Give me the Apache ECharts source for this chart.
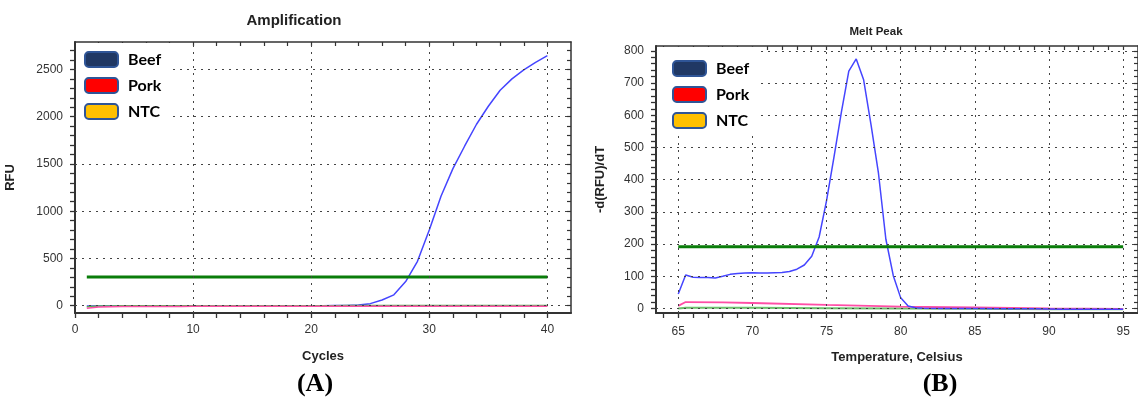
<!DOCTYPE html>
<html>
<head>
<meta charset="utf-8">
<script src="https://cdn.jsdelivr.net/npm/echarts@6/dist/echarts.min.js"></script>
<style>
html,body{margin:0;padding:0;background:#fff;}
#chart{width:1138px;height:397px;}
</style>
</head>
<body>
<div id="chart"></div>
<script>
// ---------- Data: (A) Amplification ----------
const cycles = [1,2,3,4,5,6,7,8,9,10,11,12,13,14,15,16,17,18,19,20,21,22,23,24,25,26,27,28,29,30,31,32,33,34,35,36,37,38,39,40];
const beefAmp = [-4,-3,-2,-2,-1,-1,-1,0,0,0,0,0,0,0,0,0,0,0,0,1,1,2,3,8,22,60,115,255,470,800,1160,1450,1690,1920,2110,2280,2400,2495,2575,2645];
const porkAmp = [-28,-14,-10,-9,-8,-8,-7,-7,-7,-6,-6,-6,-6,-6,-6,-6,-6,-6,-6,-6,-6,-6,-6,-6,-6,-6,-6,-6,-6,-6,-6,-6,-6,-6,-6,-6,-6,-6,-6,-6];
const ntcAmp = [-10,-4,-2,-1,0,0,0,0,0,1,1,1,1,1,1,1,1,1,1,1,1,1,2,2,2,2,2,2,2,2,2,2,2,2,2,2,2,2,2,2];
const ampThreshold = 305;
const ampXTicks = [0,2,4,6,8,10,12,14,16,18,20,22,24,26,28,30,32,34,36,38,40];
const ampXLabels = [0,10,20,30,40];
const ampYTicks = [0,100,200,300,400,500,600,700,800,900,1000,1100,1200,1300,1400,1500,1600,1700,1800,1900,2000,2100,2200,2300,2400,2500,2600,2700];
const ampYLabels = [0,500,1000,1500,2000,2500];

// ---------- Data: (B) Melt Peak ----------
const meltTemps = [65,65.5,66,66.5,67,67.5,68,68.5,69,69.5,70,70.5,71,71.5,72,72.5,73,73.5,74,74.5,75,75.5,76,76.5,77,77.5,78,78.5,79,79.5,80,80.5,81,81.5,83,85,87,89,91,93,95];
const beefMelt = [45,104,97,96,96,95,100,106,109,110,111,110,110,111,112,115,122,135,162,222,335,470,610,737,775,710,570,420,215,102,33,8,2,1,0,0,-1,-1,-2,-2,-2];
const porkTemps = [65,65.5,68,70,75,80,85,90,95];
const porkMelt = [8,20,19,17,11,6,3,0,-1];
const ntcTemps = [65,65.5,70,75,80,85,90,95];
const ntcMelt = [0,2,2,1,0,-1,-2,-2];
const meltThreshold = 192;
const meltXTicks = [64,65,66,67,68,69,70,71,72,73,74,75,76,77,78,79,80,81,82,83,84,85,86,87,88,89,90,91,92,93,94,95];
const meltXLabels = [65,70,75,80,85,90,95];
const meltYTicks = [0,20,40,60,80,100,120,140,160,180,200,220,240,260,280,300,320,340,360,380,400,420,440,460,480,500,520,540,560,580,600,620,640,660,680,700,720,740,760,780,800];
const meltYLabels = [0,100,200,300,400,500,600,700,800];

const legendNames = ['Beef','Pork','NTC'];
const legendFills = ['#203864','#ff0000','#ffc000'];

// ---------- helpers ----------
const zip = (xs, ys) => xs.map((x, i) => [x, ys[i]]);
const AX = '#333';
const labelFont = {fontFamily:'Liberation Sans', fontSize:12, color:'#333'};
const nameFont = {fontFamily:'Liberation Sans', fontSize:13, fontWeight:'bold', color:'#222'};
const plain = v => String(v);

function mainX(gridIndex, min, max, ticks, labels, name, margin, gap) {
  return {
    type:'value', gridIndex, min, max, position:'bottom',
    name, nameLocation:'middle', nameGap:gap, nameTextStyle:nameFont,
    axisLine:{show:true, onZero:false, lineStyle:{color:AX, width:2}},
    axisTick:{show:true, inside:false, length:5, customValues:ticks, lineStyle:{color:AX, width:1.3}},
    axisLabel:{show:true, customValues:labels, margin, formatter:plain, ...labelFont},
    splitLine:{show:false}
  };
}
function frameX(gridIndex, min, max, ticks) {
  return {
    type:'value', gridIndex, min, max, position:'top',
    axisLine:{show:true, onZero:false, lineStyle:{color:AX, width:1.5}},
    axisTick:{show:true, inside:true, length:4, customValues:ticks, lineStyle:{color:AX, width:1.2}},
    axisLabel:{show:false}, splitLine:{show:false}
  };
}
function mainY(gridIndex, min, max, ticks, labels, name, gap) {
  return {
    type:'value', gridIndex, min, max, position:'left',
    name, nameLocation:'middle', nameGap:gap, nameRotate:90, nameTextStyle:nameFont,
    axisLine:{show:true, onZero:false, lineStyle:{color:AX, width:2}},
    axisTick:{show:true, inside:false, length:5, customValues:ticks, lineStyle:{color:AX, width:1.3}},
    axisLabel:{show:true, customValues:labels, margin:12, formatter:plain, ...labelFont},
    splitLine:{show:false}
  };
}
function frameY(gridIndex, min, max, ticks) {
  return {
    type:'value', gridIndex, min, max, position:'right',
    axisLine:{show:true, onZero:false, lineStyle:{color:AX, width:1.5}},
    axisTick:{show:true, inside:true, length:4, customValues:ticks, lineStyle:{color:AX, width:1.2}},
    axisLabel:{show:false}, splitLine:{show:false}
  };
}
function gridSeries(xi, yi, xs, ys) {
  return {
    type:'line', name:'grid'+xi, xAxisIndex:xi, yAxisIndex:yi, data:[], silent:true, z:1,
    markLine:{
      silent:true, symbol:['none','none'], label:{show:false}, animation:false,
      lineStyle:{type:[2,5], color:'#444', width:1},
      emphasis:{disabled:true},
      data: xs.map(v => ({xAxis:v})).concat(ys.map(v => ({yAxis:v})))
    }
  };
}
function lineSeries(name, xi, yi, data, color, width) {
  return {
    type:'line', name, xAxisIndex:xi, yAxisIndex:yi, data, showSymbol:false, symbol:'none',
    lineStyle:{color, width}, itemStyle:{color}, z:3, silent:true, animation:false
  };
}
function legendBox(left, top, padding) {
  return {
    left, top, orient:'vertical', icon:'roundRect', itemWidth:33, itemHeight:15, itemGap:9,
    backgroundColor:'#fff', padding, z:10, selectedMode:false,
    data: legendNames,
    textStyle:{fontFamily:'Lato', fontWeight:'bold', fontSize:16, color:'#000', padding:[0,0,0,5]}
  };
}

const dummySeries = legendNames.map((n, i) => ({
  type:'scatter', name:n, xAxisIndex:0, yAxisIndex:0, data:[],
  itemStyle:{color:legendFills[i], opacity:1, borderColor:'#2f5597', borderWidth:2.2}
}));

const option = {
  animation:false,
  backgroundColor:'#fff',
  grid:[
    {left:75, top:42, width:496, height:271},
    {left:656, top:46, width:482, height:267}
  ],
  xAxis:[
    mainX(0, 0, 42, ampXTicks, ampXLabels, 'Cycles', 11, 37),
    frameX(0, 0, 42, ampXTicks),
    mainX(1, 63.5, 96, meltXTicks, meltXLabels, 'Temperature, Celsius', 13, 38),
    frameX(1, 63.5, 96, meltXTicks)
  ],
  yAxis:[
    mainY(0, -77, 2790, ampYTicks, ampYLabels, 'RFU', 58),
    frameY(0, -77, 2790, ampYTicks),
    mainY(1, -14, 815, meltYTicks, meltYLabels, '-d(RFU)/dT', 49),
    frameY(1, -14, 815, meltYTicks)
  ],
  legend:[
    legendBox(76, 43, [8,10,6,8]),
    legendBox(657, 47, [13,8,6,15])
  ],
  graphic:[
    {type:'text', x:294, y:21, style:{text:'Amplification', align:'center', verticalAlign:'middle', font:'bold 15px "Liberation Sans"', fill:'#222'}},
    {type:'text', x:876, y:32, style:{text:'Melt Peak', align:'center', verticalAlign:'middle', font:'bold 11.5px "Liberation Sans"', fill:'#222'}},
    {type:'text', x:315, y:384, style:{text:'(A)', align:'center', verticalAlign:'middle', font:'bold 26px "Liberation Serif"', fill:'#000'}},
    {type:'text', x:940, y:384, style:{text:'(B)', align:'center', verticalAlign:'middle', font:'bold 26px "Liberation Serif"', fill:'#000'}}
  ],
  series:[
    ...dummySeries,
    gridSeries(0, 0, [10,20,30,40], ampYLabels),
    gridSeries(2, 2, meltXLabels, meltYLabels),
    lineSeries('Beef A', 0, 0, zip(cycles, beefAmp), '#4545ff', 1.5),
    lineSeries('NTC A', 0, 0, zip(cycles, ntcAmp), '#55b055', 1.5),
    lineSeries('Pork A', 0, 0, zip(cycles, porkAmp), '#ff4da6', 1.5),
    lineSeries('Threshold A', 0, 0, [[cycles[0], ampThreshold], [cycles[cycles.length-1], ampThreshold]], '#0a7d0a', 3),
    lineSeries('NTC B', 2, 2, zip(ntcTemps, ntcMelt), '#6cc06c', 2),
    lineSeries('Pork B', 2, 2, zip(porkTemps, porkMelt), '#ff4da6', 1.8),
    lineSeries('Beef B', 2, 2, zip(meltTemps, beefMelt), '#4545ff', 1.5),
    lineSeries('Threshold B', 2, 2, [[meltTemps[0], meltThreshold], [meltTemps[meltTemps.length-1], meltThreshold]], '#0a7d0a', 3)
  ]
};
const chart = echarts.init(document.getElementById('chart'), null, {renderer:'canvas'});
chart.setOption(option);
</script>
</body>
</html>
